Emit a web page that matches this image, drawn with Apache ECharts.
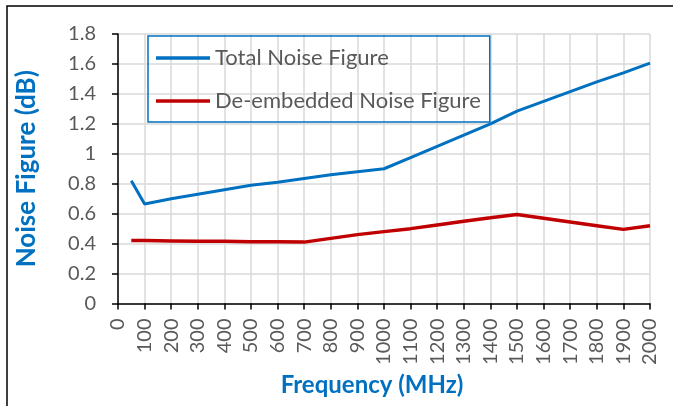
<!DOCTYPE html>
<html>
<head>
<meta charset="utf-8">
<script src="https://cdn.jsdelivr.net/npm/echarts@6/dist/echarts.min.js"></script>
<style>
  html, body { margin: 0; padding: 0; background: #fff; }
  #chart { width: 673px; height: 406px; }
</style>
</head>
<body>
<div id="chart"></div>
<script>
// frequencies in MHz
const freqs = [50, 100, 200, 300, 400, 500, 600, 700, 800, 900, 1000,
  1100, 1200, 1300, 1400, 1500, 1600, 1700, 1800, 1900, 2000]
const totalNF = [0.82, 0.665, 0.70, 0.73, 0.76, 0.79, 0.81, 0.835, 0.86, 0.88, 0.90,
  0.975, 1.05, 1.125, 1.20, 1.285, 1.35, 1.415, 1.48, 1.54, 1.605]
const deembNF = [0.42, 0.42, 0.418, 0.416, 0.415, 0.413, 0.412, 0.41, 0.435, 0.46, 0.48,
  0.50, 0.525, 0.55, 0.572, 0.595, 0.57, 0.545, 0.52, 0.495, 0.52]
const seriesNames = ['Total Noise Figure', 'De-embedded Noise Figure']

const font = 'Lato'
const labelGray = '#595959'
const titleBlue = '#0070C0'

const pairs = vals => freqs.map((f, i) => [f, vals[i]])

const chart = echarts.init(document.getElementById('chart'), null, { renderer: 'canvas' })
chart.setOption({
  animation: false,
  grid: { left: 118, right: 23, top: 34, bottom: 102.5 },
  legend: {
    orient: 'vertical',
    left: 148,
    top: 36,
    padding: [11, 9, 10, 8],
    borderColor: titleBlue,
    borderWidth: 1.5,
    icon: 'rect',
    itemWidth: 54,
    itemHeight: 3.5,
    itemGap: 21,
    textStyle: { fontFamily: font, fontSize: 22, color: labelGray },
    data: seriesNames
  },
  xAxis: {
    type: 'value',
    min: 0,
    max: 2000,
    interval: 100,
    name: 'Frequency (MHz)',
    nameLocation: 'middle',
    nameGap: 66,
    // extra right padding nudges the title a little left, as in the original
    nameTextStyle: { fontFamily: font, fontSize: 24, fontWeight: 'bold', color: titleBlue, padding: [0, 24, 0, 0] },
    axisLine: { lineStyle: { color: '#000', width: 1.5 } },
    axisTick: { show: true, length: 6, lineStyle: { color: '#000', width: 1.5 } },
    axisLabel: {
      rotate: 90, margin: 15, fontFamily: font, fontSize: 20, color: labelGray,
      formatter: v => String(v)
    },
    splitLine: { show: true, lineStyle: { color: '#d9d9d9', width: 1.5 } }
  },
  yAxis: {
    type: 'value',
    min: 0,
    max: 1.8,
    interval: 0.2,
    name: 'Noise Figure (dB)',
    nameLocation: 'middle',
    nameGap: 78,
    nameTextStyle: { fontFamily: font, fontSize: 26, fontWeight: 'bold', color: titleBlue },
    axisLine: { show: true, lineStyle: { color: '#000', width: 1.5 } },
    axisTick: { show: true, length: 6, lineStyle: { color: '#000', width: 1.5 } },
    axisLabel: { margin: 22, fontFamily: font, fontSize: 20, color: labelGray },
    splitLine: { show: true, lineStyle: { color: '#d9d9d9', width: 1.5 } }
  },
  series: [{
    name: seriesNames[0],
    type: 'line',
    symbol: 'none',
    data: pairs(totalNF),
    lineStyle: { color: '#0070C0', width: 3 },
    itemStyle: { color: '#0070C0' }
  }, {
    name: seriesNames[1],
    type: 'line',
    symbol: 'none',
    data: pairs(deembNF),
    lineStyle: { color: '#C00000', width: 3.5 },
    itemStyle: { color: '#C00000' }
  }],
  graphic: [{
    type: 'rect',
    shape: { x: 7, y: 6, width: 700, height: 500 },
    style: { fill: 'none', stroke: '#000', lineWidth: 1.5 },
    silent: true
  }]
})
</script>
</body>
</html>
